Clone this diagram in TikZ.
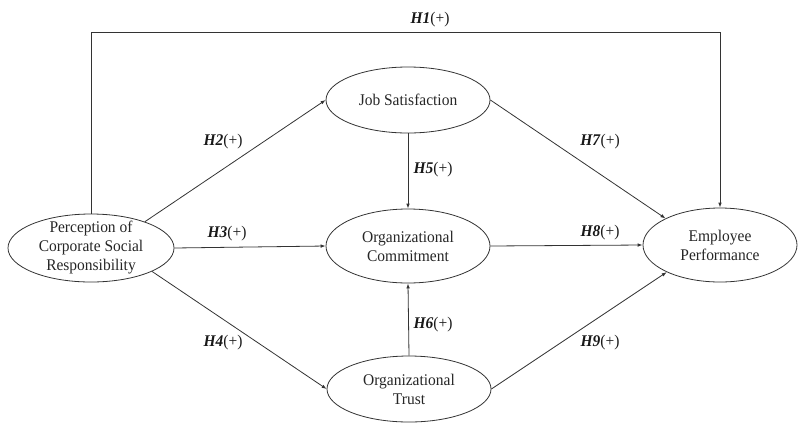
\documentclass[tikz,border=0pt]{standalone}
\usepackage{fontspec}
\setmainfont{Liberation Serif}[FakeStretch=0.95]
\usetikzlibrary{shapes.geometric,arrows.meta}
\begin{document}
\begin{tikzpicture}[x=1pt,y=-1pt,
  construct/.style={ellipse,draw=black!80,line width=0.8pt,inner sep=0pt},
  ctext/.style={align=center,font=\fontsize{16.3}{19}\selectfont,text=black!85},
  hyp/.style={font=\fontsize{16.3}{19}\selectfont,text=black!90},
  path/.style={draw=black!80,line width=0.8pt,-{Latex[length=5pt,width=3.6pt]}}]
  \useasboundingbox (0,0) rectangle (798,424);
  % latent constructs
  \node[construct,minimum width=166pt,minimum height=68pt,
        label={[ctext]center:Perception of\\Corporate Social\\Responsibility}] (p) at (91,248) {};
  \node[construct,minimum width=164pt,minimum height=66pt,
        label={[ctext]center:Job Satisfaction}] (js) at (408,100) {};
  \node[construct,minimum width=164pt,minimum height=74pt,
        label={[ctext]center:Organizational\\Commitment}] (oc) at (408,246) {};
  \node[construct,minimum width=164pt,minimum height=66pt,
        label={[ctext]center:Organizational\\Trust}] (tr) at (409,389) {};
  \node[construct,minimum width=154pt,minimum height=74pt,
        label={[ctext]center:Employee\\Performance}] (em) at (720,245) {};
  % hypothesised paths
  \coordinate (top) at (0,32);
  \draw[path] (p.north) |- (em.north |- top) -- (em.north);
  \draw[path] (p.26) -- (js.west);
  \draw[path] (p.east) -- (oc.west);
  \draw[path] (p.-21) -- (tr.west);
  \draw[path] (js.south) -- (oc.north);
  \draw[path] (tr.north) -- (oc.south);
  \draw[path] (js.east) -- (em.154);
  \draw[path] (oc.east) -- (em.west);
  \draw[path] (tr.east) -- (em.207);
  % hypothesis labels
  \node[hyp] (h1) at (430,20) {\textbf{\textit{H1}}(+)};
  \node[hyp] (h2) at (223,142) {\textbf{\textit{H2}}(+)};
  \node[hyp] (h3) at (227,234) {\textbf{\textit{H3}}(+)};
  \node[hyp] (h4) at (223,343) {\textbf{\textit{H4}}(+)};
  \node[hyp] (h5) at (433,170) {\textbf{\textit{H5}}(+)};
  \node[hyp] (h6) at (433,325) {\textbf{\textit{H6}}(+)};
  \node[hyp] (h7) at (600,142) {\textbf{\textit{H7}}(+)};
  \node[hyp] (h8) at (600,233) {\textbf{\textit{H8}}(+)};
  \node[hyp] (h9) at (600,343) {\textbf{\textit{H9}}(+)};
\end{tikzpicture}
\end{document}
